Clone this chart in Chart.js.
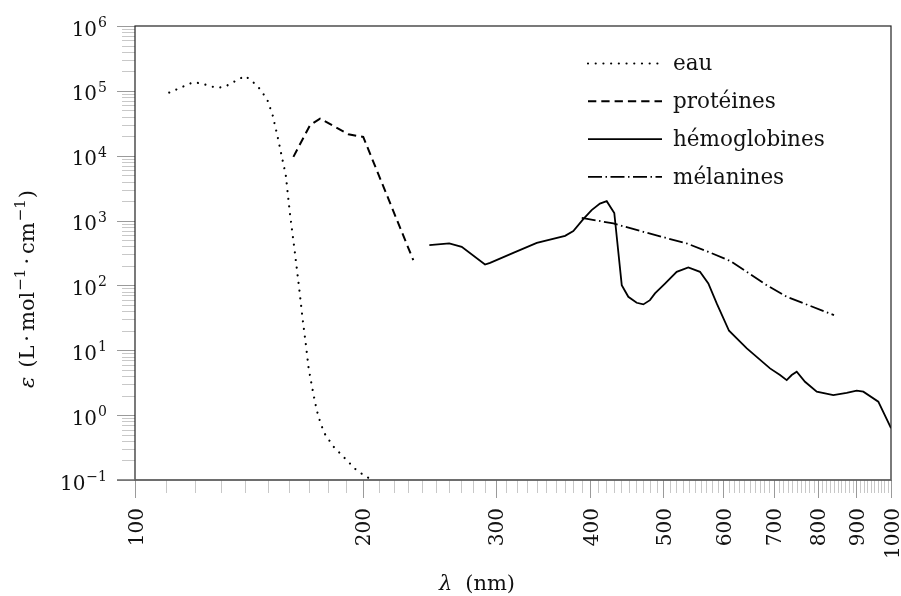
<!DOCTYPE html>
<html lang="fr">
<head>
<meta charset="UTF-8">
<title>Coefficient d'extinction molaire</title>
<script src="https://cdn.jsdelivr.net/npm/chart.js@4.4.1/dist/chart.umd.min.js"></script>
<style>
  html, body { margin: 0; padding: 0; background: #fff; }
  #spectre { display: block; }
</style>
</head>
<body>
<canvas id="spectre" width="901" height="596"></canvas>
<script>
// longueurs d'onde (nm) et epsilon (L.mol-1.cm-1) pour chaque absorbant
const eauLambda = [111, 119.4, 122.3, 128.3, 131.3, 139.8, 142.7, 145.3, 147.5, 149.6, 152.1,
  154.5, 156.3, 158.3, 160.3, 162.8, 164.8, 166.7, 168.2, 169.7, 171.3, 173, 174.8, 177.8, 182.9, 189.2, 196.5, 204.6];
const eauEps = [9.4e4, 1.36e5, 1.3e5, 1.11e5, 1.15e5, 1.7e5, 1.42e5, 1.18e5, 9.3e4, 7.3e4, 4.2e4,
  1.9e4, 1.0e4, 5.0e3, 1.29e3, 310, 95, 29, 12.8, 5.3, 2.9, 1.6, 0.95, 0.54, 0.33, 0.22, 0.14, 0.104];

const protLambda = [162, 170.4, 175.7, 191.5, 200.4, 233.4];
const protEps = [9.6e3, 2.95e4, 3.74e4, 2.14e4, 1.95e4, 245];

const hemoLambda = [245.1, 260.4, 270.5, 290.4, 294.9, 316.5, 340, 370.6, 380, 391.7, 401.8, 412.1,
  420.7, 430.5, 440.4, 449.3, 460.9, 470.3, 479.9, 487.3, 502.4, 520.6, 539.4, 558.9, 573.3, 588.1,
  610.6, 644.6, 691.8, 713.2, 727.8, 739, 750.4, 769.6, 797.6, 838.9, 873.6, 900.7, 919.2, 962.1, 1000];
const hemoEps = [418, 444, 393, 210, 223, 318, 454, 582, 687, 1050, 1450, 1830,
  1990, 1310, 101, 66.8, 54, 51, 59.3, 75.2, 107, 162, 189, 162, 107, 52.8,
  20, 10.7, 5.26, 4.15, 3.47, 4.15, 4.67, 3.27, 2.3, 2.04, 2.21, 2.38, 2.3, 1.61, 0.63];

const melLambda = [389.9, 429.3, 470.3, 536.8, 573.3, 612.4, 644.6, 684.7, 727.8, 840.6];
const melEps = [1100, 902, 670, 444, 330, 239, 162, 101, 66.8, 34.9];

const xMajor = [100, 200, 300, 400, 500, 600, 700, 800, 900, 1000];
const yExponents = [-1, 0, 1, 2, 3, 4, 5, 6];

const FONT = '"DejaVu Serif", "Liberation Serif", serif';

function pts(xs, ys) {
  return xs.map((x, i) => ({ x: x, y: ys[i] }));
}

// texte compose de morceaux [police, texte, decalage vertical, espace apres], centre en cx
function drawParts(ctx, parts, cx, by) {
  let total = 0;
  parts.forEach((p) => {
    ctx.font = p[0] + FONT;
    total += ctx.measureText(p[1]).width + (p[3] || 0);
  });
  let x = cx - total / 2;
  ctx.textAlign = 'left';
  ctx.textBaseline = 'alphabetic';
  parts.forEach((p) => {
    ctx.font = p[0] + FONT;
    ctx.fillText(p[1], x, by + p[2]);
    x += ctx.measureText(p[1]).width + (p[3] || 0);
  });
}

// graduations, cadre, libelles et legende
const habillage = {
  id: 'habillage',
  afterDraw(chart) {
    const ctx = chart.ctx;
    const xs = chart.scales.x, ys = chart.scales.y;
    const a = chart.chartArea;
    ctx.save();

    // graduations y (majeures + mineures)
    yExponents.forEach((k) => {
      for (let m = 1; m <= 9; m++) {
        const v = m * Math.pow(10, k);
        if (v > 1e6 + 1) break;
        const py = Math.round(ys.getPixelForValue(v)) + 0.5;
        ctx.strokeStyle = m === 1 ? '#9a9a9a' : '#c8c8c8';
        ctx.lineWidth = 1;
        ctx.beginPath();
        ctx.moveTo(a.left - (m === 1 ? 18 : 13), py);
        ctx.lineTo(a.left, py);
        ctx.stroke();
      }
    });
    // graduations x, tous les 10 nm
    for (let v = 100; v <= 1000; v += 10) {
      const major = v % 100 === 0;
      const px = Math.round(xs.getPixelForValue(v)) + 0.5;
      ctx.strokeStyle = major ? '#9a9a9a' : '#c8c8c8';
      ctx.lineWidth = 1;
      ctx.beginPath();
      ctx.moveTo(px, a.bottom);
      ctx.lineTo(px, a.bottom + (major ? 18 : 13));
      ctx.stroke();
    }

    // cadre
    ctx.strokeStyle = '#222';
    ctx.lineWidth = 1.2;
    ctx.strokeRect(a.left, a.top, a.right - a.left, a.bottom - a.top);
    ctx.strokeStyle = '#6a6a6a';
    ctx.lineWidth = 1.6;
    ctx.beginPath();
    ctx.moveTo(a.left - 18, a.bottom);
    ctx.lineTo(a.right, a.bottom);
    ctx.stroke();

    ctx.fillStyle = '#111';
    // libelles y : 10^k
    yExponents.forEach((k) => {
      const py = ys.getPixelForValue(Math.pow(10, k));
      const ex = k < 0 ? '\u2212' + (-k) : String(k);
      ctx.font = '14px ' + FONT;
      const wEx = ctx.measureText(ex).width;
      ctx.textAlign = 'right';
      ctx.textBaseline = 'alphabetic';
      ctx.fillText(ex, 107, py + 1);
      ctx.font = '20px ' + FONT;
      ctx.fillText('10', 107 - wEx - 1, py + 9.5);
    });

    // libelles x, tournes
    ctx.font = '20px ' + FONT;
    xMajor.forEach((v) => {
      const px = xs.getPixelForValue(v);
      ctx.save();
      ctx.translate(px, 508);
      ctx.rotate(-Math.PI / 2);
      ctx.textAlign = 'right';
      ctx.textBaseline = 'alphabetic';
      ctx.fillText(String(v), 0, 7.5);
      ctx.restore();
    });

    // titre x : lambda (nm)
    drawParts(ctx, [['italic 21px ', '\u03bb', 0, 13], ['21px ', '(nm)', 0]], 477, 590);

    // titre y : epsilon (L.mol-1.cm-1), espaces autour des points
    ctx.save();
    ctx.translate(34, 289);
    ctx.rotate(-Math.PI / 2);
    drawParts(ctx, [
      ['italic 21px ', '\u03b5', 0, 9], ['21px ', '(L', 0, 4], ['21px ', '\u00b7', 0, 4], ['21px ', 'mol', 0, 1],
      ['15px ', '\u22121', -9, 4], ['21px ', '\u00b7', 0, 4], ['21px ', 'cm', 0, 1],
      ['15px ', '\u22121', -9, 1], ['21px ', ')', 0]
    ], 0, 0);
    ctx.restore();

    // legende
    chart.data.datasets.forEach((ds, i) => {
      const ly = 63.5 + i * 37.8;
      ctx.save();
      ctx.strokeStyle = ds.borderColor;
      ctx.lineWidth = ds.borderWidth;
      ctx.lineCap = ds.borderCapStyle || 'butt';
      ctx.setLineDash(ds.borderDash || []);
      ctx.beginPath();
      ctx.moveTo(588, ly);
      ctx.lineTo(662, ly);
      ctx.stroke();
      ctx.restore();
      ctx.font = '21.5px ' + FONT;
      ctx.textAlign = 'left';
      ctx.textBaseline = 'alphabetic';
      ctx.fillText(ds.label, 673, ly + 6.7);
    });
    ctx.restore();
  }
};

new Chart(document.getElementById('spectre'), {
  type: 'line',
  data: {
    datasets: [
      { label: 'eau', data: pts(eauLambda, eauEps), borderColor: '#000', borderWidth: 2.2,
        borderDash: [0.01, 7.7], borderCapStyle: 'round' },
      { label: 'prot\u00e9ines', data: pts(protLambda, protEps), borderColor: '#000', borderWidth: 2,
        borderDash: [8.3, 5] },
      { label: 'h\u00e9moglobines', data: pts(hemoLambda, hemoEps), borderColor: '#000', borderWidth: 1.8 },
      { label: 'm\u00e9lanines', data: pts(melLambda, melEps), borderColor: '#000', borderWidth: 1.8,
        borderDash: [14, 3.5, 1.5, 3.5] }
    ]
  },
  options: {
    responsive: false,
    animation: false,
    layout: { padding: { top: 26, right: 10, left: 0, bottom: 0 } },
    elements: { point: { radius: 0 }, line: { tension: 0, fill: false } },
    plugins: { legend: { display: false }, tooltip: { enabled: false } },
    scales: {
      x: {
        type: 'logarithmic', min: 100, max: 1000,
        ticks: { display: false }, grid: { display: false }, border: { display: false },
        afterFit: (s) => { s.height = 116; }
      },
      y: {
        type: 'logarithmic', min: 0.1, max: 1e6,
        ticks: { display: false }, grid: { display: false }, border: { display: false },
        afterFit: (s) => { s.width = 135; }
      }
    }
  },
  plugins: [habillage]
});
</script>
</body>
</html>
